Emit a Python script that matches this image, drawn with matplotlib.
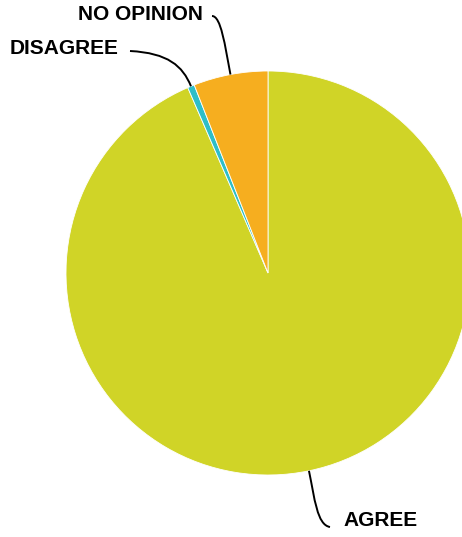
import matplotlib
matplotlib.use("Agg")
import matplotlib.pyplot as plt
import numpy as np
from matplotlib.path import Path
from matplotlib.patches import PathPatch
from matplotlib.transforms import Affine2D

labels = ["AGREE", "DISAGREE", "NO OPINION"]
values = [93.5, 0.55, 5.95]
colors = ["#D0D427", "#2EBEC8", "#F6AE1F"]

W, H = 462, 537
fig = plt.figure(figsize=(W / 100, H / 100), dpi=100)
fig.patch.set_facecolor("white")

# pie centre (268,273) radius 202 in pixels (top-left origin)
cx, cy, r = 268, 273, 202
ax = fig.add_axes([(cx - r) / W, (H - cy - r) / H, 2 * r / W, 2 * r / H])

wedges, _ = ax.pie(values, colors=colors, startangle=90, counterclock=False,
                   radius=1.0, center=(0, 0),
                   wedgeprops=dict(edgecolor="white", linewidth=0.6))
ax.set_xlim(-1, 1)
ax.set_ylim(-1, 1)
ax.set_aspect("equal")
ax.axis("off")
for w in wedges:
    w.set_clip_on(False)

font = dict(family=["Liberation Sans", "DejaVu Sans"], fontweight="bold", fontsize=15, color="black")

# pixel transform with top-left origin
pix = Affine2D().scale(1, -1).translate(0, H).scale(1 / W, 1 / H) + fig.transFigure

# label anchor, connector start, first control offset, outward length of second control
label_specs = {
    "AGREE": dict(text_xy=(343, 521), line_start=(330, 527), c1=(-13, -2), out=28),
    "DISAGREE": dict(text_xy=(10, 48), line_start=(130, 51), c1=(38, 2), out=22),
    "NO OPINION": dict(text_xy=(78, 14), line_start=(212, 16), c1=(9, 0), out=30),
}

total = sum(values)
cum = 0.0
for lab, v in zip(labels, values):
    mid = 90 - (cum + v / 2) / total * 360
    cum += v
    ux, uy = np.cos(np.radians(mid)), -np.sin(np.radians(mid))
    spec = label_specs[lab]
    tx, ty = spec["text_xy"]
    fig.text(tx / W, 1 - ty / H, lab, ha="left", va="center", **font)
    p0 = np.array(spec["line_start"], float)
    p1 = p0 + np.array(spec["c1"], float)
    p3 = np.array([cx + r * ux, cy + r * uy])
    p2 = p3 + spec["out"] * np.array([ux, uy])
    path = Path([p0, p1, p2, p3], [Path.MOVETO, Path.CURVE4, Path.CURVE4, Path.CURVE4])
    fig.patches.append(PathPatch(path, transform=pix, facecolor="none",
                                 edgecolor="black", lw=1.4))

fig.savefig("out.png", dpi=100, facecolor="white")
